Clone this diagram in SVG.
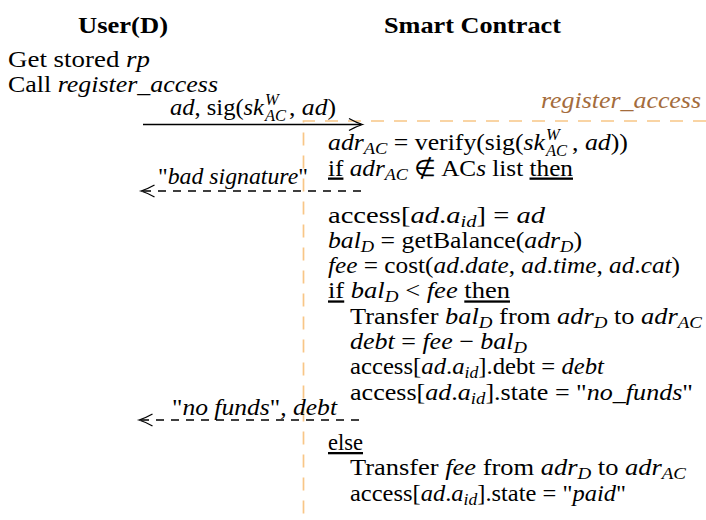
<svg xmlns="http://www.w3.org/2000/svg" width="706" height="520" viewBox="0 0 706 520">
  <style>
    text { font-family: "Liberation Serif", "Times New Roman", serif; font-size: 23px; fill: #000; }
    .b { font-weight: bold; }
    .i { font-style: italic; }
    .s { font-size: 16.5px; }
    .u { text-decoration: underline; }
    .fn { fill: #a46c3c; font-style: italic; }
    .life { fill: none; stroke: #f8c687; stroke-width: 1.7; stroke-dasharray: 13 10; }
    .msg { fill: none; stroke: #000; stroke-width: 1.3; }
    .ret { fill: none; stroke: #000; stroke-width: 1.3; stroke-dasharray: 8 7; }
    .head { fill: none; stroke: #000; stroke-width: 1.3; }
  </style>

  <!-- participant headers -->
  <g id="user">
    <text class="b" x="78" y="33" textLength="90" lengthAdjust="spacingAndGlyphs">User(D)</text>
    <text x="8" y="67" textLength="142" lengthAdjust="spacingAndGlyphs">Get stored <tspan class="i">rp</tspan></text>
    <text x="8" y="92" textLength="210" lengthAdjust="spacingAndGlyphs">Call <tspan class="i">register_access</tspan></text>
  </g>

  <g id="contract">
    <text class="b" x="384" y="33" textLength="177" lengthAdjust="spacingAndGlyphs">Smart Contract</text>
    <text class="fn" x="541" y="108" textLength="160" lengthAdjust="spacingAndGlyphs">register_access</text>
  </g>

  <!-- contract lifeline: function frame -->
  <g id="lifeline">
    <path class="life" d="M706,121 H303.5 V520"/>
  </g>

  <!-- messages -->
  <g id="connectors">
    <line class="msg" x1="143" y1="124.5" x2="361" y2="124.5"/>
    <path class="head" d="M349,118.5 Q356,122.5 362.5,124.5 Q356,126.5 349,130.5"/>

    <line class="ret" x1="143" y1="191" x2="362" y2="191"/>
    <path class="head" d="M154.5,185 Q147.5,189 141,191 Q147.5,193 154.5,197"/>

    <line class="ret" x1="141" y1="420" x2="362" y2="420"/>
    <path class="head" d="M152.5,414 Q145.5,418 139,420 Q145.5,422 152.5,426"/>
  </g>

  <!-- message labels -->
  <g id="msg-request">
    <text x="170" y="115" textLength="94" lengthAdjust="spacingAndGlyphs"><tspan class="i">ad</tspan>, sig(<tspan class="i">sk</tspan></text>
    <text class="i s" x="265" y="104.5">W</text>
    <text class="i s" x="265" y="121">AC</text>
    <text x="289" y="115" textLength="47" lengthAdjust="spacingAndGlyphs">, <tspan class="i">ad</tspan>)</text>
  </g>
  <g id="msg-bad-signature">
    <text x="158" y="184" textLength="150" lengthAdjust="spacingAndGlyphs">"<tspan class="i">bad signature</tspan>"</text>
  </g>
  <g id="msg-no-funds">
    <text x="172" y="415" textLength="165" lengthAdjust="spacingAndGlyphs">"<tspan class="i">no funds</tspan>", <tspan class="i">debt</tspan></text>
  </g>

  <!-- contract body -->
  <g id="body">
    <text x="328" y="150" textLength="217" lengthAdjust="spacingAndGlyphs"><tspan class="i">adr</tspan><tspan class="i s" dy="4">AC</tspan><tspan dy="-4"> = verify(sig(</tspan><tspan class="i">sk</tspan></text>
    <text class="i s" x="546" y="139.5">W</text>
    <text class="i s" x="546" y="156">AC</text>
    <text x="572" y="150" textLength="56" lengthAdjust="spacingAndGlyphs">, <tspan class="i">ad</tspan>))</text>

    <text x="328" y="175.5" textLength="245" lengthAdjust="spacingAndGlyphs"><tspan class="u">if</tspan> <tspan class="i">adr</tspan><tspan class="i s" dy="4">AC</tspan><tspan dy="-4"> ∉ AC</tspan><tspan class="i">s</tspan> list <tspan class="u">then</tspan></text>

    <text x="328" y="222.5" textLength="217" lengthAdjust="spacingAndGlyphs">access[<tspan class="i">ad</tspan>.<tspan class="i">a</tspan><tspan class="i s" dy="4">id</tspan><tspan dy="-4">] = </tspan><tspan class="i">ad</tspan></text>

    <text x="328" y="247.8" textLength="254" lengthAdjust="spacingAndGlyphs"><tspan class="i">bal</tspan><tspan class="i s" dy="4">D</tspan><tspan dy="-4"> = getBalance(</tspan><tspan class="i">adr</tspan><tspan class="i s" dy="4">D</tspan><tspan dy="-4">)</tspan></text>

    <text x="328" y="273" textLength="352" lengthAdjust="spacingAndGlyphs"><tspan class="i">fee</tspan> = cost(<tspan class="i">ad</tspan>.<tspan class="i">date</tspan>, <tspan class="i">ad</tspan>.<tspan class="i">time</tspan>, <tspan class="i">ad</tspan>.<tspan class="i">cat</tspan>)</text>

    <text x="328" y="298.4" textLength="182" lengthAdjust="spacingAndGlyphs"><tspan class="u">if</tspan> <tspan class="i">bal</tspan><tspan class="i s" dy="4">D</tspan><tspan dy="-4"> &lt; </tspan><tspan class="i">fee</tspan> <tspan class="u">then</tspan></text>

    <text x="350" y="323.7" textLength="352" lengthAdjust="spacingAndGlyphs">Transfer <tspan class="i">bal</tspan><tspan class="i s" dy="4">D</tspan><tspan dy="-4"> from </tspan><tspan class="i">adr</tspan><tspan class="i s" dy="4">D</tspan><tspan dy="-4"> to </tspan><tspan class="i">adr</tspan><tspan class="i s" dy="4">AC</tspan></text>

    <text x="350" y="349" textLength="177" lengthAdjust="spacingAndGlyphs"><tspan class="i">debt</tspan> = <tspan class="i">fee</tspan> − <tspan class="i">bal</tspan><tspan class="i s" dy="4">D</tspan></text>

    <text x="350" y="374.3" textLength="254" lengthAdjust="spacingAndGlyphs">access[<tspan class="i">ad</tspan>.<tspan class="i">a</tspan><tspan class="i s" dy="4">id</tspan><tspan dy="-4">].debt = </tspan><tspan class="i">debt</tspan></text>

    <text x="350" y="399.6" textLength="343" lengthAdjust="spacingAndGlyphs">access[<tspan class="i">ad</tspan>.<tspan class="i">a</tspan><tspan class="i s" dy="4">id</tspan><tspan dy="-4">].state = "</tspan><tspan class="i">no_funds</tspan>"</text>

    <text class="u" x="328" y="450" textLength="35" lengthAdjust="spacingAndGlyphs">else</text>

    <text x="350" y="475" textLength="336" lengthAdjust="spacingAndGlyphs">Transfer <tspan class="i">fee</tspan> from <tspan class="i">adr</tspan><tspan class="i s" dy="4">D</tspan><tspan dy="-4"> to </tspan><tspan class="i">adr</tspan><tspan class="i s" dy="4">AC</tspan></text>

    <text x="350" y="500.5" textLength="276" lengthAdjust="spacingAndGlyphs">access[<tspan class="i">ad</tspan>.<tspan class="i">a</tspan><tspan class="i s" dy="4">id</tspan><tspan dy="-4">].state = "</tspan><tspan class="i">paid</tspan>"</text>
  </g>
</svg>
